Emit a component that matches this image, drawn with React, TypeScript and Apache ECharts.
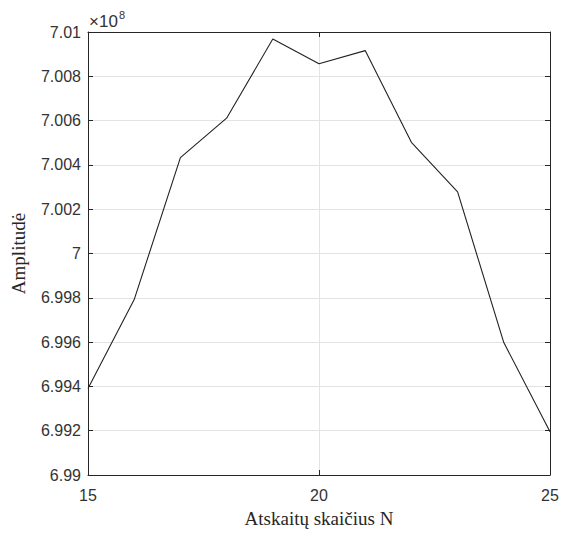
import React, { useEffect, useRef } from "react";
import * as echarts from "echarts";

const xValues = [15, 16, 17, 18, 19, 20, 21, 22, 23, 24, 25];
const amplitudes = [
  699391000, 699792000, 700433000, 700611000, 700968000, 700857000,
  700916000, 700502000, 700278000, 699598000, 699195000,
];
const xTitle = "Atskaitų skaičius N";
const yTitle = "Amplitudė";
const yScaleExp = 8;

const fmtY = (v: number) => String(Number((v / Math.pow(10, yScaleExp)).toFixed(3)));

export default function App() {
  const ref = useRef<HTMLDivElement>(null);
  useEffect(() => {
    document.body.style.margin = "0";
    if (!ref.current) return;
    const chart = echarts.init(ref.current, undefined, { renderer: "svg" });
    const axisColor = "#262626";
    const gridColor = "#e3e3e3";
    const labelFont = { fontFamily: "Liberation Sans", fontSize: 16, color: "#333333" };
    const titleFont = { fontFamily: "Liberation Serif", fontSize: 19, color: "#262626" };
    chart.setOption({
      animation: false,
      backgroundColor: "#ffffff",
      grid: { left: 88, right: 18, top: 32, bottom: 52, containLabel: false },
      xAxis: [
        {
          type: "value",
          min: 15,
          max: 25,
          interval: 5,
          name: xTitle,
          nameLocation: "middle",
          nameGap: 34,
          nameTextStyle: titleFont,
          axisLine: { show: true, onZero: false, lineStyle: { color: axisColor, width: 1 } },
          axisTick: { show: true, inside: true, length: 5, lineStyle: { color: axisColor } },
          axisLabel: { ...labelFont, margin: 12 },
          splitLine: { show: true, lineStyle: { color: gridColor, width: 1 } },
        },
        {
          type: "value",
          position: "top",
          min: 15,
          max: 25,
          interval: 5,
          axisLine: { show: true, onZero: false, lineStyle: { color: axisColor, width: 1 } },
          axisTick: { show: true, inside: true, length: 5, lineStyle: { color: axisColor } },
          axisLabel: { show: false },
          splitLine: { show: false },
        },
      ],
      yAxis: [
        {
          type: "value",
          min: 699000000,
          max: 701000000,
          interval: 200000,
          name: yTitle,
          nameLocation: "middle",
          nameGap: 60,
          nameTextStyle: titleFont,
          axisLine: { show: true, onZero: false, lineStyle: { color: axisColor, width: 1 } },
          axisTick: { show: true, inside: true, length: 5, lineStyle: { color: axisColor } },
          axisLabel: { ...labelFont, margin: 7, formatter: fmtY },
          splitLine: { show: true, lineStyle: { color: gridColor, width: 1 } },
        },
        {
          type: "value",
          position: "right",
          min: 699000000,
          max: 701000000,
          interval: 200000,
          axisLine: { show: true, onZero: false, lineStyle: { color: axisColor, width: 1 } },
          axisTick: { show: true, inside: true, length: 5, lineStyle: { color: axisColor } },
          axisLabel: { show: false },
          splitLine: { show: false },
        },
      ],
      graphic: [
        {
          type: "text",
          left: 89,
          top: 13,
          style: { text: "×10", fontFamily: "Liberation Sans", fontSize: 17, fill: "#333333" },
        },
        {
          type: "text",
          left: 119,
          top: 9,
          style: { text: String(yScaleExp), fontFamily: "Liberation Sans", fontSize: 11, fill: "#333333" },
        },
      ],
      series: [
        {
          type: "line",
          data: xValues.map((x, i) => [x, amplitudes[i]]),
          symbol: "none",
          lineStyle: { color: "#222222", width: 1.1 },
          xAxisIndex: 0,
          yAxisIndex: 0,
        },
      ],
    });
    return () => chart.dispose();
  }, []);
  return <div ref={ref} style={{ width: 568, height: 533 }} />;
}
